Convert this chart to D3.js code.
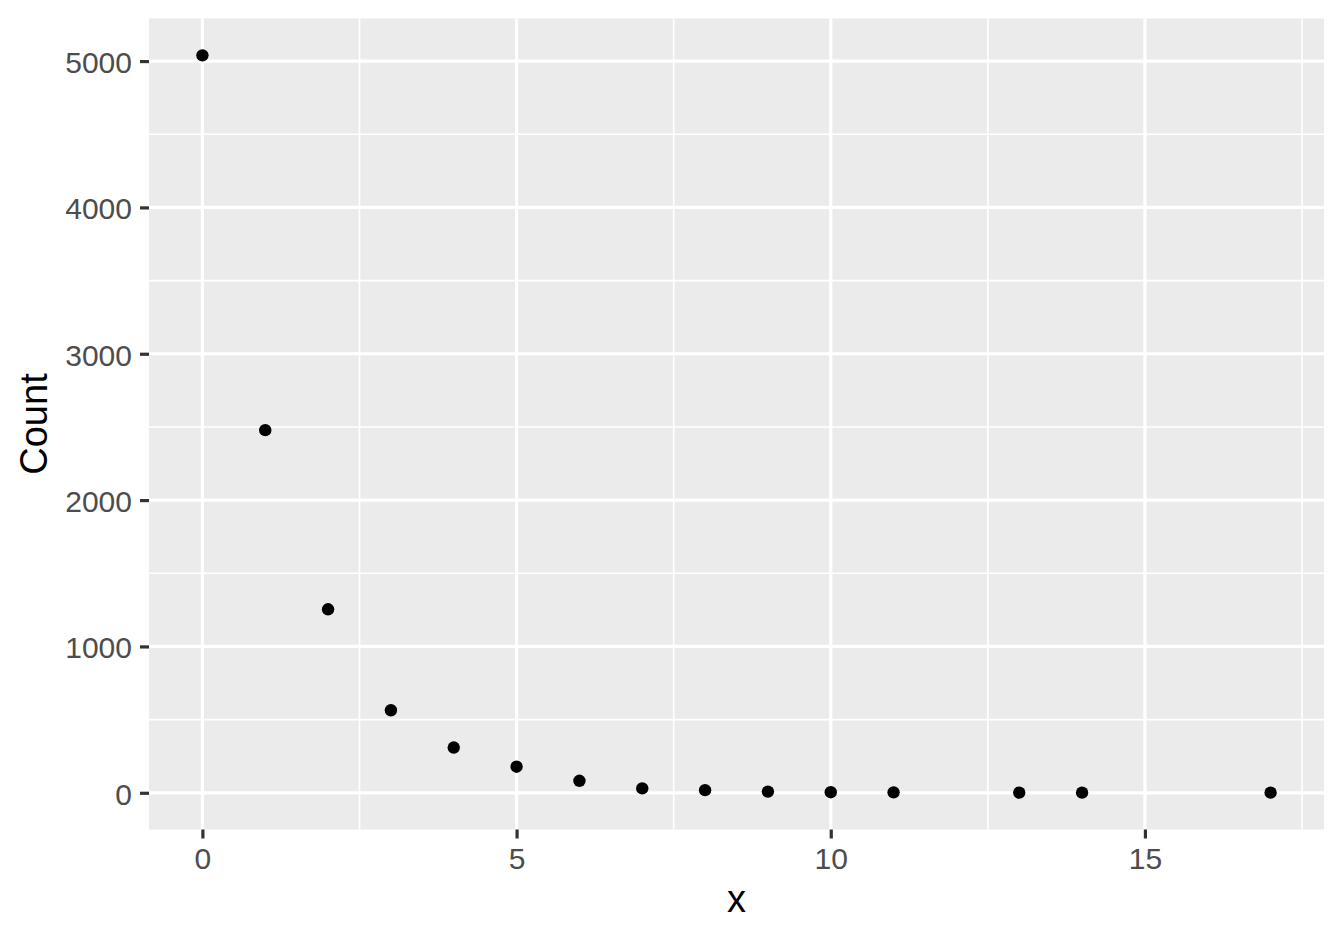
<!DOCTYPE html>
<html>
<head>
<meta charset="utf-8">
<script src="https://cdn.jsdelivr.net/npm/d3@7"></script>
<style>
  html, body { margin: 0; padding: 0; background: #fff; }
  svg { display: block; }
</style>
</head>
<body>
<svg id="chart" width="1344" height="940"></svg>
<script>
// Data
const xValues = [0, 1, 2, 3, 4, 5, 6, 7, 8, 9, 10, 11, 13, 14, 17];
const counts  = [5039, 2478, 1254, 564, 309, 178, 82, 30, 18, 8, 4, 3, 1, 1, 1];
const xTicks = [0, 5, 10, 15];
const xMinor = [2.5, 7.5, 12.5, 17.5];
const yTicks = [0, 1000, 2000, 3000, 4000, 5000];
const yMinor = [500, 1500, 2500, 3500, 4500];
const xTitle = "x";
const yTitle = "Count";

const W = 1344, H = 940;
const panel = { left: 149, right: 1324, top: 18.5, bottom: 829.5 };

const svg = d3.select("#chart");

function expand(ext, f) {
  const d = ext[1] - ext[0];
  return [ext[0] - d * f, ext[1] + d * f];
}

const x = d3.scaleLinear()
  .domain(expand(d3.extent(xValues), 0.05))
  .range([panel.left, panel.right]);
const y = d3.scaleLinear()
  .domain(expand(d3.extent(counts), 0.05))
  .range([panel.bottom, panel.top]);

// panel background
svg.append("rect")
  .attr("x", panel.left).attr("y", panel.top)
  .attr("width", panel.right - panel.left)
  .attr("height", panel.bottom - panel.top)
  .attr("fill", "#EBEBEB");

const grid = svg.append("g");
// minor grid
grid.selectAll(".xminor").data(xMinor.filter(v => x(v) <= panel.right)).join("line")
  .attr("x1", d => x(d)).attr("x2", d => x(d))
  .attr("y1", panel.top).attr("y2", panel.bottom)
  .attr("stroke", "#fff").attr("stroke-width", 1.6);
grid.selectAll(".yminor").data(yMinor).join("line")
  .attr("y1", d => y(d)).attr("y2", d => y(d))
  .attr("x1", panel.left).attr("x2", panel.right)
  .attr("stroke", "#fff").attr("stroke-width", 1.6);
// major grid
grid.selectAll(".xmajor").data(xTicks).join("line")
  .attr("x1", d => x(d)).attr("x2", d => x(d))
  .attr("y1", panel.top).attr("y2", panel.bottom)
  .attr("stroke", "#fff").attr("stroke-width", 3.2);
grid.selectAll(".ymajor").data(yTicks).join("line")
  .attr("y1", d => y(d)).attr("y2", d => y(d))
  .attr("x1", panel.left).attr("x2", panel.right)
  .attr("stroke", "#fff").attr("stroke-width", 3.2);

// axes
const tickFont = "Liberation Sans, Arial, Helvetica, sans-serif";
const xAxis = d3.axisBottom(x).tickValues(xTicks).tickSize(9).tickPadding(9).tickFormat(d3.format("d"));
const gx = svg.append("g").attr("transform", `translate(0,${panel.bottom})`).call(xAxis);
gx.select(".domain").remove();
gx.selectAll(".tick line").attr("stroke", "#333333").attr("stroke-width", 3.2);
gx.selectAll(".tick text").attr("fill", "#4D4D4D")
  .style("font-family", tickFont).style("font-size", "30px")
  .attr("dy", "0.71em");

const yAxis = d3.axisLeft(y).tickValues(yTicks).tickSize(9).tickPadding(8).tickFormat(d3.format("d"));
const gy = svg.append("g").attr("transform", `translate(${panel.left},0)`).call(yAxis);
gy.select(".domain").remove();
gy.selectAll(".tick line").attr("stroke", "#333333").attr("stroke-width", 3.2);
gy.selectAll(".tick text").attr("fill", "#4D4D4D")
  .style("font-family", tickFont).style("font-size", "30px")
  .attr("dy", "0.38em");

// points
svg.append("g").selectAll("circle")
  .data(xValues.map((v, i) => ({ x: v, c: counts[i] })))
  .join("circle")
  .attr("cx", d => x(d.x))
  .attr("cy", d => y(d.c))
  .attr("r", 6.2)
  .attr("fill", "#000");

// titles
svg.append("text")
  .attr("x", (panel.left + panel.right) / 2)
  .attr("y", 912)
  .attr("text-anchor", "middle")
  .style("font-family", tickFont).style("font-size", "38px")
  .attr("fill", "#000")
  .text(xTitle);

svg.append("text")
  .attr("transform", `translate(47,${(panel.top + panel.bottom) / 2}) rotate(-90)`)
  .attr("text-anchor", "middle")
  .style("font-family", tickFont).style("font-size", "38px")
  .attr("fill", "#000")
  .text(yTitle);
</script>
</body>
</html>
